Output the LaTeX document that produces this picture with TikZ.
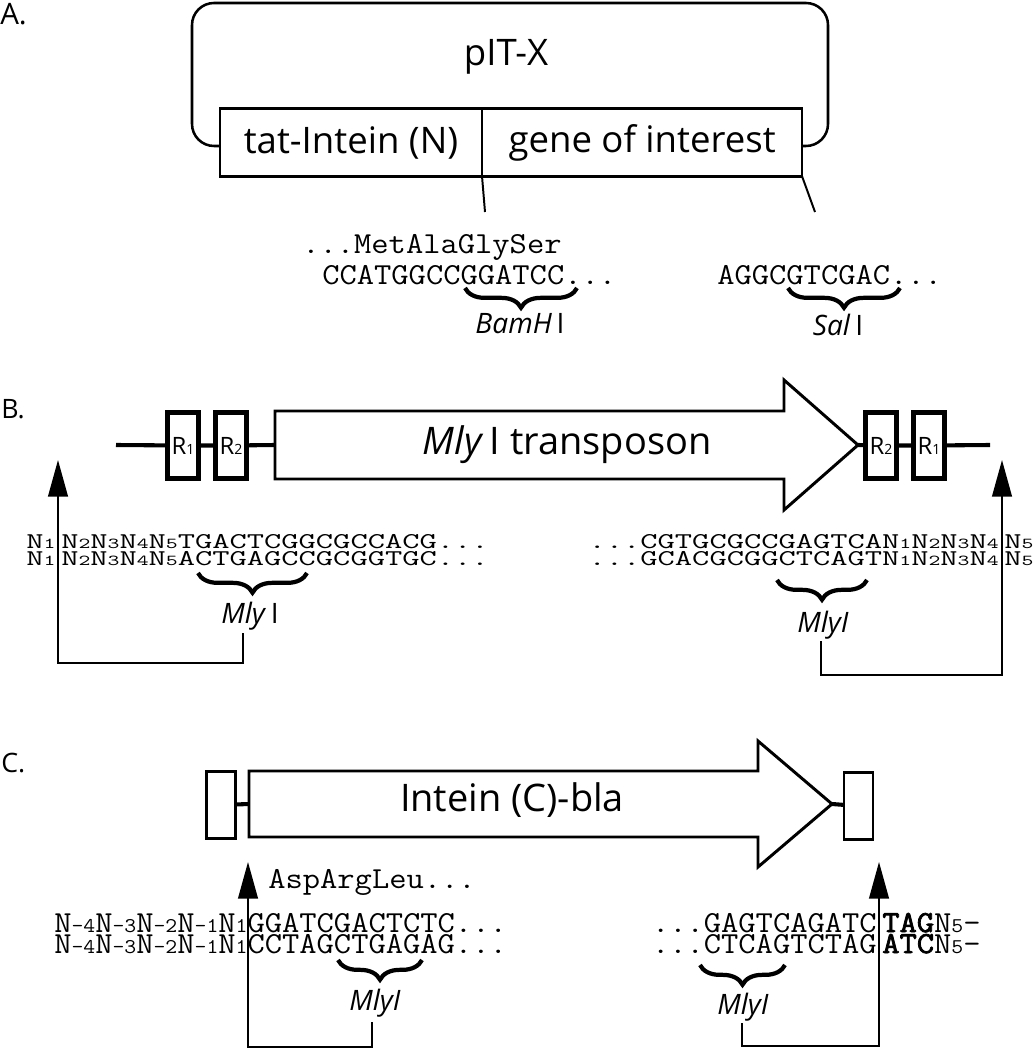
\documentclass[tikz,border=0pt]{standalone}
\usepackage{fontspec}
\setmainfont{Open Sans}
\newfontfamily\seqfont[FakeStretch=1.1]{Latin Modern Mono}
\newfontfamily\seqbold[FakeStretch=1.1, FakeBold=2.5]{Latin Modern Mono}
\newfontfamily\seqwide[FakeStretch=1.49]{Latin Modern Mono}
\usetikzlibrary{positioning, calc, arrows.meta, decorations.pathreplacing}

% small digits in the sequences
\newcommand{\nsub}[1]{N{\fontsize{14.9}{15}\selectfont #1}}
\newcommand{\nB}[1]{N{\fontsize{10.8}{11}\selectfont #1}}
\newcommand{\rsub}[1]{R{\fontsize{10}{10}\selectfont #1}}

\begin{document}
\begin{tikzpicture}[
    x=0.025cm, y=-0.025cm,
    seclabel/.style={
      anchor=base west, inner sep=0pt
    },
    gene/.style={
      draw, line width=1.8pt, outer sep=0pt, inner sep=0pt,
      minimum height=1.7cm, font=\fontsize{26}{26}\selectfont
    },
    loopline/.style={line width=1.8pt, rounded corners=0.55cm},
    cut/.style={line width=1.4pt},
    seqA/.style={
      anchor=base west, inner sep=0pt,
      font=\seqfont\fontsize{21.7}{22}\selectfont
    },
    seqB/.style={
      anchor=base west, inner sep=0pt,
      font=\seqwide\fontsize{16}{17}\selectfont
    },
    brace/.style={
      decorate, decoration={brace, mirror, amplitude=14pt}, line width=3pt
    },
    enzyme/.style={
      anchor=base, inner sep=0pt, font=\fontsize{20}{20}\selectfont
    },
    rbox/.style={
      draw, line width=3.5pt, outer sep=0pt, inner sep=0pt,
      minimum width=0.775cm, minimum height=1.65cm,
      font=\fontsize{17}{17}\selectfont
    },
    cbox/.style={
      draw, line width=2.1pt, outer sep=0pt, inner sep=0pt,
      minimum width=0.725cm, minimum height=1.675cm
    },
    backbone/.style={line width=2.9pt},
    tnarrow/.style={line width=2.1pt, line join=miter},
    bigtext/.style={font=\fontsize{27}{27}\selectfont, inner sep=0pt},
    link/.style={line width=1.4pt, -{Triangle[length=26pt,width=14pt]}},
  ]
    \useasboundingbox (0,0) rectangle (1033,1050);

    % A. plasmid
    \node [seclabel, font=\fontsize{21}{21}\selectfont] (labA) at (0,25) {A.};
    \node [gene, minimum width=6.55cm] (tat) at (351,142.5) {tat-Intein (N)};
    \node [gene, minimum width=8cm, right=0pt of tat] (goi) {gene of interest};
    \node [font=\fontsize{26}{26}\selectfont] (pit) at (506,57) {pIT-X};
    \draw [loopline] ($(tat.west)+(0,3.5)$) -| (192,3) -| (828,146) -- ($(goi.east)+(0,3.5)$);

    % cut sites
    \coordinate (cutBam) at (485,212);
    \coordinate (cutSal) at (815,212);
    \draw [cut] (tat.south east) -- (cutBam);
    \draw [cut] (goi.south east) -- (cutSal);

    \node [seqA] (peptA) at (302,253) {...MetAlaGlySer};
    \node [seqA] (bamseq) at (322,284) {CCATGGCCGGATCC...};
    \node [seqA] (salseq) at (717,284) {AGGCGTCGAC...};
    \draw [brace] (465,288) -- (577,288);
    \node [enzyme] (bam) at (520,333) {\textit{BamH}\,I};
    \draw [brace] (788,288) -- (900,288);
    \node [enzyme] (sal) at (838,335) {\textit{Sal}\,I};

    % B. transposon
    \node [seclabel, font=\fontsize{19}{19}\selectfont] (labB) at (1,418) {B.};
    \coordinate (bbL) at (116,445);
    \node [rbox] (R1) at (183,445.5) {\rsub{1}};
    \node [rbox, right=0.425cm of R1] (R2) {\rsub{2}};
    \coordinate (tail) at (275,445);
    \coordinate (tip) at (858,445);
    \draw [tnarrow] (275,411) -- (784,411) -- (784,380) -- (tip) -- (784,510) -- (784,479) -- (275,479) -- cycle;
    \node [bigtext] (tnsp) at (567,445) {\textit{Mly}\,I transposon};
    \node [rbox] (R2r) at (881,445.5) {\rsub{2}};
    \node [rbox, right=0.425cm of R2r] (R1r) {\rsub{1}};
    \coordinate (bbR) at (990,445);
    \draw [backbone] (bbL) -- (R1) (R1) -- (R2) (R2) -- (tail);
    \draw [backbone] (tip) -- (R2r) (R2r) -- (R1r) (R1r) -- (bbR);

    \node [seqB] (bl1a) at (26,548) {\nB{1}};
    \node [seqB] (bl1b) at (61,548) {\nB{2}\nB{3}\nB{4}\nB{5}TGACTCGGCGCCACG...};
    \node [seqB] (bl2a) at (26,565) {\nB{1}};
    \node [seqB] (bl2b) at (61,565) {\nB{2}\nB{3}\nB{4}\nB{5}ACTGAGCCGCGGTGC...};
    \draw [brace] (198,573) -- (307,573);
    \node [enzyme] (mlyBL) at (250,623) {\textit{Mly}\,I};

    \node [seqB, anchor=base east] (br1a) at (999,548) {...CGTGCGCCGAGTCA\nB{1}\nB{2}\nB{3}\nB{4}};
    \node [seqB] (br1b) at (1004,548) {\nB{5}};
    \node [seqB, anchor=base east] (br2a) at (999,565) {...GCACGCGGCTCAGT\nB{1}\nB{2}\nB{3}\nB{4}};
    \node [seqB] (br2b) at (1004,565) {\nB{5}};
    \draw [brace] (777,580) -- (867,580);
    \node [enzyme] (mlyBR) at (823,632) {\textit{MlyI}};

    % insertion arrows
    \coordinate (upBL) at (58,460);
    \coordinate (upBR) at (1002,460);
    \coordinate (ftBL) at (243,633);
    \coordinate (ftBR) at (821,641);
    \draw [link] (ftBL) -- ++(0,30) -| (upBL);
    \draw [link] (ftBR) -- ++(0,34) -| (upBR);

    % C. product
    \node [seclabel, font=\fontsize{19}{19}\selectfont] (labC) at (1,772) {C.};
    \node [cbox] (boxCL) at (221,805) {};
    \coordinate (ctail) at (249,804);
    \coordinate (ctip) at (832,804);
    \draw [tnarrow] (249,771) -- (758,771) -- (758,741) -- (ctip) -- (758,867) -- (758,837) -- (249,837) -- cycle;
    \node [bigtext] (intein) at (512,800) {Intein (C)-bla};
    \node [cbox] (boxCR) at (858.5,806) {};
    \draw [backbone] (boxCL) -- (ctail) (ctip) -- (boxCR);

    \node [seqA] (peptC) at (268,888) {AspArgLeu...};
    \node [seqA] (cl1) at (54,932) {\nsub{-4}\nsub{-3}\nsub{-2}\nsub{-1}\nsub{1}GGATCGACTCTC...};
    \node [seqA] (cl2) at (54,953) {\nsub{-4}\nsub{-3}\nsub{-2}\nsub{-1}\nsub{1}CCTAGCTGAGAG...};
    \draw [brace] (338,960) -- (422,960);
    \node [enzyme] (mlyCL) at (375,1010) {\textit{MlyI}};

    \node [seqA, anchor=base east] (cr1a) at (877,932) {...GAGTCAGATC};
    \node [seqA] (cr1b) at (882,932) {{\seqbold TAG}\nsub{5}-};
    \node [seqA, anchor=base east] (cr2a) at (877,953) {...CTCAGTCTAG};
    \node [seqA] (cr2b) at (882,953) {{\seqbold ATC}\nsub{5}-};
    \draw [brace] (700,965) -- (785,965);
    \node [enzyme] (mlyCR) at (743,1014) {\textit{MlyI}};

    \coordinate (upCL) at (248,862);
    \coordinate (upCR) at (879,862);
    \coordinate (ftCL) at (372,1022);
    \coordinate (ftCR) at (742,1023);
    \draw [link] (ftCL) -- ++(0,25) -| (upCL);
    \draw [link] (ftCR) -- ++(0,23) -| (upCR);

  \end{tikzpicture}
\end{document}
